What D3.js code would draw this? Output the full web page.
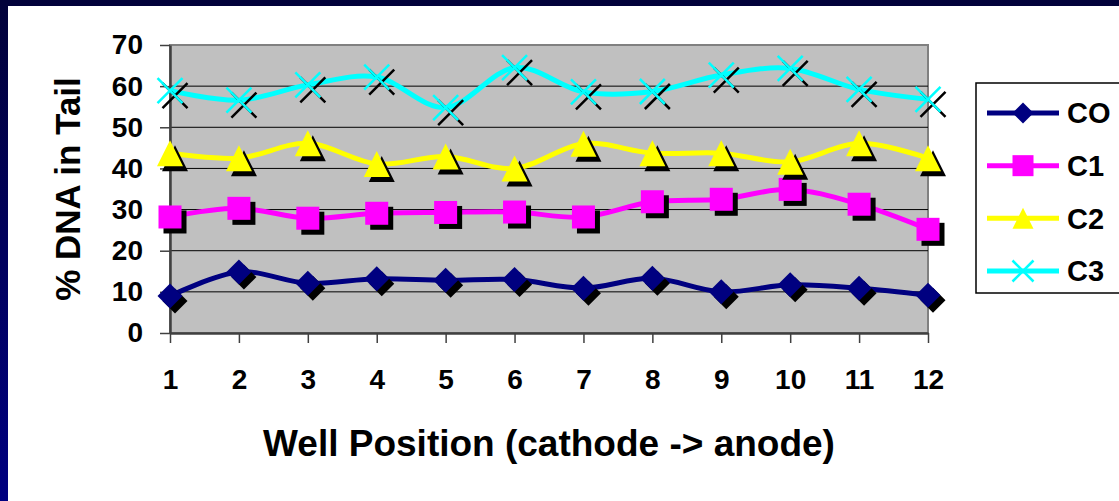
<!DOCTYPE html>
<html>
<head>
<meta charset="utf-8">
<script src="https://cdn.jsdelivr.net/npm/d3@7"></script>
<style>
  body { margin: 0; background: #fff; }
  svg { display: block; }
  text { font-family: "Liberation Sans", Arial, sans-serif; font-weight: bold; fill: #000; }
</style>
</head>
<body>
<svg id="chart" width="1119" height="501"></svg>
<script>
// well positions along the gel
const wells = [1, 2, 3, 4, 5, 6, 7, 8, 9, 10, 11, 12];
const yTicks = [0, 10, 20, 30, 40, 50, 60, 70];
const seriesNames = ["CO", "C1", "C2", "C3"];

// % DNA in tail
const valuesCO = [9.0, 14.8, 12.1, 13.2, 12.8, 13.0, 10.9, 13.3, 10.0, 11.7, 10.9, 9.2];
const valuesC1 = [28.2, 30.3, 27.9, 29.1, 29.3, 29.4, 28.2, 31.9, 32.5, 34.9, 31.3, 25.2];
const valuesC2 = [43.7, 42.5, 46.1, 41.1, 42.9, 40.0, 46.0, 43.7, 43.7, 41.6, 46.1, 42.5];
const valuesC3 = [58.9, 56.6, 60.3, 62.2, 54.8, 64.5, 58.6, 58.7, 62.7, 64.3, 59.2, 56.8];

const svg = d3.select("#chart");
const width = 1119, height = 501;

// plot area
const plot = { left: 170, right: 928, top: 45, bottom: 333 };

const series = [
  { name: "CO", values: valuesCO, color: "#000080", marker: "diamond" },
  { name: "C1", values: valuesC1, color: "#ff00ff", marker: "square" },
  { name: "C2", values: valuesC2, color: "#ffff00", marker: "triangle" },
  { name: "C3", values: valuesC3, color: "#00ffff", marker: "cross" },
];

// slide background (dark navy frame)
const defs = svg.append("defs");
const grad = defs.append("linearGradient")
  .attr("id", "frame-grad")
  .attr("x1", 0).attr("y1", 0).attr("x2", 0).attr("y2", 1);
grad.append("stop").attr("offset", "0%").attr("stop-color", "#02023a");
grad.append("stop").attr("offset", "100%").attr("stop-color", "#000080");

svg.append("rect")
  .attr("width", width).attr("height", height)
  .attr("fill", "url(#frame-grad)");
svg.append("rect")
  .attr("x", 8).attr("y", 6)
  .attr("width", width - 8).attr("height", height - 6)
  .attr("fill", "#fff");

const x = d3.scalePoint()
  .domain(wells)
  .range([plot.left, plot.right]);

const y = d3.scaleLinear()
  .domain([0, 70])
  .range([plot.bottom, plot.top]);

// grey plot area
svg.append("rect")
  .attr("x", plot.left).attr("y", plot.top)
  .attr("width", plot.right - plot.left)
  .attr("height", plot.bottom - plot.top)
  .attr("fill", "#c0c0c0")
  .attr("stroke", "#808080")
  .attr("stroke-width", 2);

// horizontal grid lines
svg.append("g")
  .selectAll("line")
  .data(yTicks.filter((d) => d > 0 && d < 70))
  .join("line")
  .attr("x1", plot.left).attr("x2", plot.right)
  .attr("y1", (d) => y(d)).attr("y2", (d) => y(d))
  .attr("stroke", "#000")
  .attr("stroke-width", 1);

// axes
const yAxis = svg.append("g")
  .attr("transform", `translate(${plot.left},0)`)
  .call(d3.axisLeft(y).tickValues(yTicks).tickSize(10).tickPadding(17).tickSizeOuter(0));

const xAxis = svg.append("g")
  .attr("transform", `translate(0,${plot.bottom})`)
  .call(d3.axisBottom(x).tickSize(10).tickPadding(26).tickSizeOuter(0));

for (const ax of [xAxis, yAxis]) {
  ax.select(".domain").attr("stroke", "#404040").attr("stroke-width", 2.5);
  ax.selectAll(".tick line").attr("stroke", "#404040").attr("stroke-width", 1.5);
  ax.selectAll(".tick text")
    .style("font-size", "28px")
    .style("font-family", "'Liberation Sans', Arial, sans-serif")
    .style("font-weight", "bold")
    .attr("fill", "#000");
}

// axis titles
svg.append("text")
  .attr("x", (plot.left + plot.right) / 2)
  .attr("y", 456)
  .attr("text-anchor", "middle")
  .style("font-size", "37px")
  .text("Well Position (cathode -> anode)");

svg.append("text")
  .attr("transform", `translate(80,${(plot.top + plot.bottom) / 2}) rotate(-90)`)
  .attr("text-anchor", "middle")
  .style("font-size", "35px")
  .text("% DNA in Tail");

// marker shapes
function drawMarker(g, type, color, size, fillColor) {
  const h = size / 2;
  if (type === "diamond") {
    g.append("path")
      .attr("d", `M0,${-h}L${h},0L0,${h}L${-h},0Z`)
      .attr("fill", fillColor || color);
  } else if (type === "square") {
    g.append("rect")
      .attr("x", -h).attr("y", -h)
      .attr("width", size).attr("height", size)
      .attr("fill", fillColor || color);
  } else if (type === "triangle") {
    g.append("path")
      .attr("d", `M0,${-h}L${h},${h}L${-h},${h}Z`)
      .attr("fill", fillColor || color);
  } else if (type === "cross") {
    g.append("path")
      .attr("d", `M${-h},${-h}L${h},${h}M${h},${-h}L${-h},${h}`)
      .attr("stroke", fillColor || color)
      .attr("stroke-width", 2.5)
      .attr("fill", "none");
  }
}

const line = d3.line()
  .x((d, i) => x(wells[i]))
  .y((d) => y(d))
  .curve(d3.curveCardinal.tension(0));

const markerSize = { diamond: 25, square: 23, triangle: 26, cross: 25 };

series.forEach((s) => {
  const g = svg.append("g").attr("class", "series");
  g.append("path")
    .datum(s.values)
    .attr("d", line)
    .attr("fill", "none")
    .attr("stroke", s.color)
    .attr("stroke-width", 5);

  s.values.forEach((v, i) => {
    const px = x(wells[i]), py = y(v);
    // drop shadow
    drawMarker(g.append("g").attr("transform", `translate(${px + 5},${py + 5})`),
      s.marker, s.color, markerSize[s.marker], "#000");
    drawMarker(g.append("g").attr("transform", `translate(${px},${py})`),
      s.marker, s.color, markerSize[s.marker]);
  });
});

// legend
const legend = svg.append("g");
legend.append("rect")
  .attr("x", 976).attr("y", 83)
  .attr("width", 200).attr("height", 210)
  .attr("fill", "#fff")
  .attr("stroke", "#000")
  .attr("stroke-width", 1.5);

const legendY = d3.scalePoint()
  .domain(seriesNames)
  .range([113, 271]);

series.forEach((s) => {
  const ly = legendY(s.name);
  legend.append("line")
    .attr("x1", 987).attr("x2", 1059)
    .attr("y1", ly).attr("y2", ly)
    .attr("stroke", s.color)
    .attr("stroke-width", 5);
  drawMarker(legend.append("g").attr("transform", `translate(1023,${ly})`),
    s.marker, s.color, 21);
  legend.append("text")
    .attr("x", 1067)
    .attr("y", ly)
    .attr("dy", "0.36em")
    .style("font-size", "29px")
    .text(s.name);
});
</script>
</body>
</html>
